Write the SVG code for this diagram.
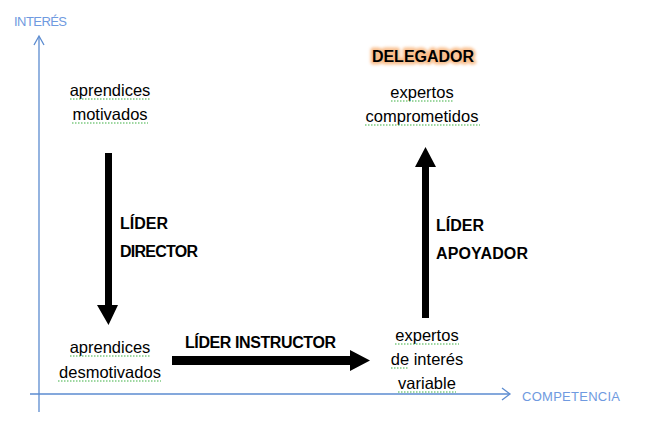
<svg xmlns="http://www.w3.org/2000/svg" width="658" height="439" viewBox="0 0 658 439">
<style>
.t{font-family:"Liberation Sans",Arial,sans-serif;font-size:16.5px;fill:#000;text-anchor:middle}
.b{font-family:"Liberation Sans",Arial,sans-serif;font-size:16px;font-weight:bold;fill:#000}
.ax{font-family:"Liberation Sans",Arial,sans-serif;font-size:13px;fill:#6f9ae0}
.axis{stroke:#5b8bd0;stroke-width:1.3;fill:none}
.sq{stroke:#3cb043;stroke-width:1.2;fill:none;stroke-dasharray:1.5 1.5}
.arr{fill:#000}
</style>
<defs>
<filter id="glow" x="-20%" y="-50%" width="140%" height="200%"><feGaussianBlur stdDeviation="1.6"/></filter>
</defs>
<g id="axes">
<line class="axis" x1="39" y1="37" x2="39" y2="412"/>
<polyline class="axis" points="34,45 39,36 44,45"/>
<line class="axis" x1="30" y1="394" x2="509" y2="394"/>
<polyline class="axis" points="502,388 510,394 502,400"/>
<text id="lbl-interes" class="ax" x="14" y="26" textLength="53">INTERÉS</text>
<text id="lbl-competencia" class="ax" x="522" y="401" textLength="98">COMPETENCIA</text>
</g>
<g id="connectors">
<path class="arr" d="M105,153 H112 V305 H118 L108.5,325 L97,305 H105 Z"/>
<path class="arr" d="M172,356 H350 V350 L370,360.5 L350,371 V365 H172 Z"/>
<path class="arr" d="M422,318 V167 H415 L425.5,147 L436,167 H429 V318 Z"/>
</g>
<g id="node-aprendices-motivados">
<text class="t" x="110" y="96">aprendices</text>
<text class="t" x="110" y="120">motivados</text>
<line class="sq" x1="70" y1="99" x2="150" y2="99"/>
<line class="sq" x1="72" y1="123" x2="148" y2="123"/>
</g>
<g id="node-lider-director">
<text class="b" x="120" y="229">LÍDER</text>
<text class="b" x="120" y="257" textLength="78">DIRECTOR</text>
</g>
<g id="node-aprendices-desmotivados">
<text class="t" x="110" y="353">aprendices</text>
<text class="t" x="110" y="378">desmotivados</text>
<line class="sq" x1="70" y1="356" x2="150" y2="356"/>
<line class="sq" x1="58" y1="381" x2="161" y2="381"/>
</g>
<g id="node-lider-instructor">
<text class="b" x="185" y="348" textLength="151">LÍDER INSTRUCTOR</text>
</g>
<g id="node-expertos-variable">
<text class="t" x="427" y="341">expertos</text>
<text class="t" x="427" y="365">de interés</text>
<text class="t" x="427" y="389">variable</text>
<line class="sq" x1="395" y1="344" x2="459" y2="344"/>
<line class="sq" x1="391" y1="368" x2="409" y2="368"/>
<line class="sq" x1="398" y1="392" x2="456" y2="392"/>
</g>
<g id="node-lider-apoyador">
<text class="b" x="436" y="231">LÍDER</text>
<text class="b" x="436" y="259" textLength="92">APOYADOR</text>
</g>
<g id="node-delegador">
<text class="b" x="423" y="62" text-anchor="middle" stroke="#f8b47a" stroke-width="5" stroke-linejoin="round" fill="#f8b47a" filter="url(#glow)" opacity="0.85">DELEGADOR</text>
<text class="b" x="423" y="62" text-anchor="middle">DELEGADOR</text>
<text class="t" x="422" y="98">expertos</text>
<text class="t" x="422" y="122">comprometidos</text>
<line class="sq" x1="391" y1="101" x2="454" y2="101"/>
<line class="sq" x1="365" y1="125" x2="480" y2="125"/>
</g>
</svg>
